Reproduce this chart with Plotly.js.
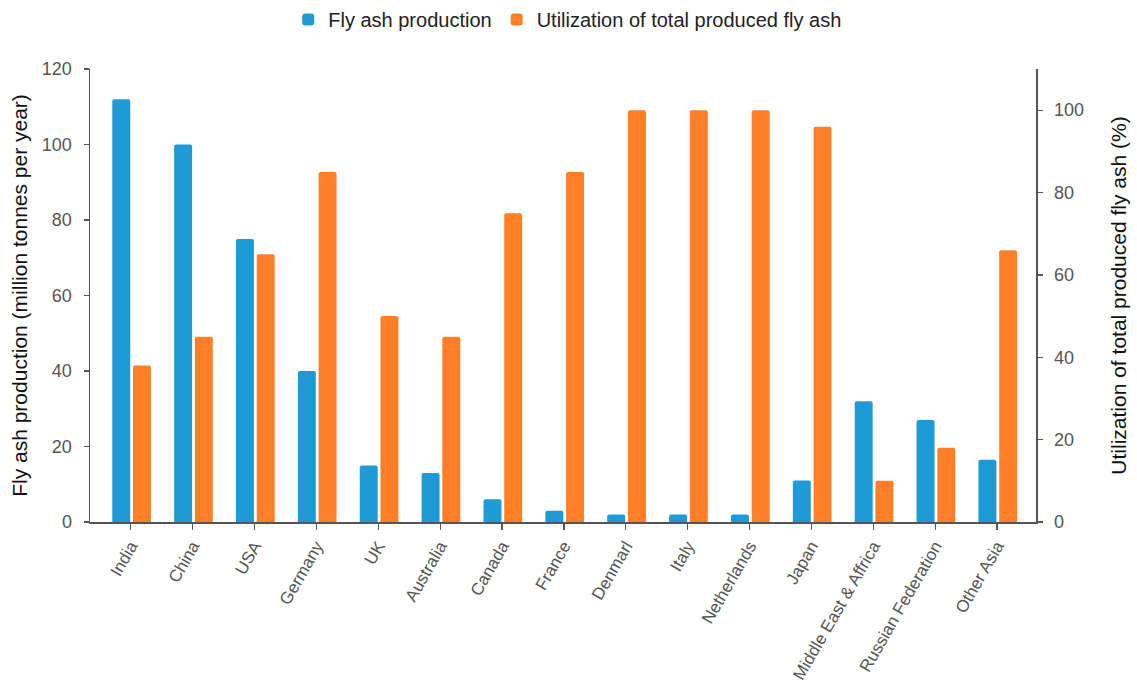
<!DOCTYPE html>
<html>
<head>
<meta charset="utf-8">
<script src="https://cdn.plot.ly/plotly-3.0.1.min.js"></script>
<style>html,body{margin:0;padding:0;background:#fff;}#chart{width:1137px;height:689px;}</style>
</head>
<body>
<div id="chart"></div>
<script>
const categories = ["India","China","USA","Germany","UK","Australia","Canada","France","Denmarl","Italy","Netherlands","Japan","Middle East & Affrica","Russian Federation","Other Asia"];
const production = [112, 100, 75, 40, 15, 13, 6, 3, 2, 2, 2, 11, 32, 27, 16.5];
const utilization = [38, 45, 65, 85, 50, 45, 75, 85, 100, 100, 100, 96, 10, 18, 66];
const leftTicks = [0, 20, 40, 60, 80, 100, 120];
const rightTicks = [0, 20, 40, 60, 80, 100];

const font = "Liberation Sans, Arial, sans-serif";
const axisCommon = {
  showgrid: false, zeroline: false, showline: true, linecolor: "#555", linewidth: 1.5,
  ticks: "outside", ticklen: 6, tickwidth: 1.2, tickcolor: "#555",
  tickfont: {family: font, size: 18, color: "#555"}
};

const traces = [
  {type: "bar", name: "Fly ash production", x: categories, y: production,
   width: 0.29, offset: -0.30, yaxis: "y",
   marker: {color: "#1e9bd7", cornerradius: 2}},
  {type: "bar", name: "Utilization of total produced fly ash", x: categories, y: utilization,
   width: 0.29, offset: 0.035, yaxis: "y2",
   marker: {color: "#fe7f27", cornerradius: 2}}
];

const layout = {
  width: 1137, height: 689,
  margin: {l: 90, r: 101, t: 69, b: 167},
  paper_bgcolor: "#fff", plot_bgcolor: "#fff",
  font: {family: font},
  showlegend: true,
  legend: {orientation: "h", x: 0.505, xanchor: "center", xref: "paper", y: 1, yref: "container", yanchor: "top",
           font: {family: font, size: 20, color: "#222"}, itemwidth: 30, traceorder: "normal"},
  xaxis: Object.assign({}, axisCommon, {type: "category", range: [-0.66, 14.63], tickangle: -60,
           tickfont: {family: font, size: 17, color: "#555"}}),
  yaxis: Object.assign({}, axisCommon, {range: [0, 120], tickvals: leftTicks, ticktext: leftTicks.map(String),
           ticklen: 5, ticklabelstandoff: 8,
           title: {text: "Fly ash production (million tonnes per year)", font: {family: font, size: 21, color: "#111"}, standoff: 8}}),
  yaxis2: Object.assign({}, axisCommon, {range: [0, 110], overlaying: "y", side: "right",
           ticklen: 5, ticklabelstandoff: 8,
           tickvals: rightTicks, ticktext: rightTicks.map(String),
           title: {text: "Utilization of total produced fly ash (%)", font: {family: font, size: 21, color: "#111"}, standoff: 28}})
};

Plotly.newPlot("chart", traces, layout, {displayModeBar: false, staticPlot: true});
</script>
</body>
</html>
